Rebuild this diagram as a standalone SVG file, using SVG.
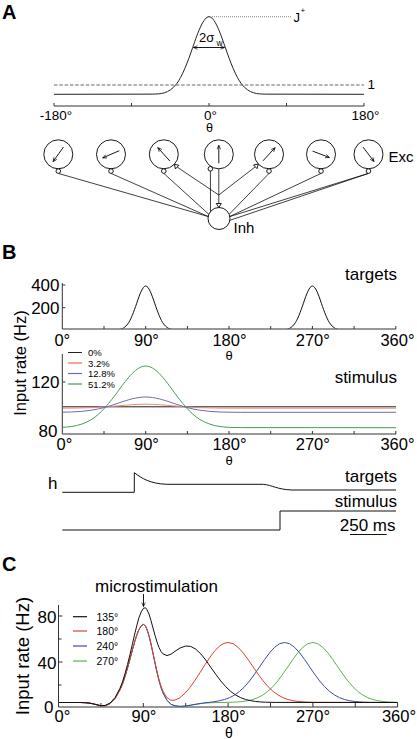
<svg xmlns="http://www.w3.org/2000/svg" width="417" height="739" viewBox="0 0 417 739">
<style>
text{font-family:"Liberation Sans",Arial,sans-serif;fill:#000}
.pl{font-size:20px;font-weight:bold}
.ax{stroke:#333;stroke-width:1;fill:none}
.cv{fill:none;stroke-width:1;stroke-linejoin:round}
.nd{fill:#fff;stroke:#000;stroke-width:0.9}
.cn{stroke:#000;stroke-width:0.75;fill:none}
.tl{font-size:17px}
.tk{font-size:16.5px}
.tA{font-size:13.5px}
.lg{font-size:9.5px}
.lgC{font-size:10.5px}
.th{font-size:13px}
.mid{text-anchor:middle}
.end{text-anchor:end}
.ar{stroke:#000;stroke-width:0.9;fill:none;marker-end:url(#ah)}
</style>
<defs>
<marker id="ah" viewBox="0 0 10 10" refX="9" refY="5" markerWidth="5" markerHeight="5" orient="auto-start-reverse" markerUnits="userSpaceOnUse"><path d="M1,1.5 L9,5 L1,8.5" fill="none" stroke="#000" stroke-width="1.4"/></marker>
<clipPath id="cT"><rect x="62.3" y="270" width="334" height="58.6"/></clipPath>
<clipPath id="cS"><rect x="62.8" y="340" width="333.5" height="93.5"/></clipPath>
</defs>

<!-- Panel A -->
<text class="pl" x="2" y="18.5">A</text>
<path class="cv" stroke="#222" d="M54,94.3 L152.3,94.14 C160.4,93.83 168.5,94.3 176.6,83.8 C182,76.8 187.4,62.9 192.8,47.2 C198.2,31.5 203.6,16.7 209,16.7 C214.4,16.7 219.8,31.5 225.2,47.2 C230.6,62.9 236,76.8 241.4,83.8 C249.5,94.3 257.6,93.83 265.7,94.14 L364,94.3"/>
<line x1="54" y1="85" x2="364" y2="85" stroke="#666" stroke-width="1" stroke-dasharray="3.5,1.8"/>
<line x1="212" y1="16.7" x2="292" y2="16.7" stroke="#888" stroke-width="1" stroke-dasharray="1,1"/>
<text x="293.5" y="21.5" font-size="13">J</text>
<text x="300.5" y="13" font-size="8">+</text>
<text x="199" y="41.5" font-size="13">2σ</text>
<text x="216.5" y="46" font-size="8.5">w</text>
<line x1="193.5" y1="47.5" x2="224.5" y2="47.5" stroke="#000" stroke-width="0.9" marker-start="url(#ah)" marker-end="url(#ah)"/>
<text class="tA" x="367.5" y="89">1</text>
<path class="ax" d="M54,103 V106 H364 V103 M131.5,106 V103 M209,106 V103 M286.5,106 V103"/>
<text class="tA mid" x="56" y="119.5">-180°</text>
<text class="tA mid" x="210.5" y="119.5">0°</text>
<text class="tA mid" x="365.5" y="119.5">180°</text>
<text class="mid" x="209.5" y="132" font-size="12.5">θ</text>

<!-- Network connectors -->
<g id="connectors">
<path class="cn" d="M58.3,173.4 L208.2,216.5 M111,173.4 L208.2,216.5 M163.8,173.4 L208.8,214.3 M210.4,171.1 L210.5,211.6 M269,173.4 L229.2,214.3 M321,173.4 L229.8,216.5 M368.5,173.4 L229.8,216.5 M368.5,173.4 L229.9,220.3"/>
<path class="cn" d="M218.8,168.8 L218.8,203.5 M218.8,195 L177.2,167.1 M218.8,195 L255.3,166.8"/>
</g>

<!-- Network nodes -->
<g id="exc1"><circle class="nd" cx="58.3" cy="154.3" r="14.5"/><line class="ar" x1="63.5" y1="147" x2="53.1" y2="161.6"/><circle class="nd" cx="58.3" cy="171.1" r="2.3"/></g>
<g id="exc2"><circle class="nd" cx="111" cy="154.3" r="14.5"/><line class="ar" x1="119.3" y1="150.7" x2="102.7" y2="157.9"/><circle class="nd" cx="111" cy="171.1" r="2.3"/></g>
<g id="exc3"><circle class="nd" cx="163.8" cy="154.3" r="14.5"/><line class="ar" x1="169.8" y1="161" x2="157.8" y2="147.6"/><circle class="nd" cx="163.8" cy="171.1" r="2.3"/><path class="nd" d="M174.3,164.3 L175.5,168.9 L178.9,165.3 Z"/></g>
<g id="exc4"><circle class="nd" cx="218.8" cy="154.3" r="14.5"/><line class="ar" x1="218.8" y1="163.3" x2="218.8" y2="145.3"/><circle class="nd" cx="210.35" cy="168.8" r="2.3"/></g>
<g id="exc5"><circle class="nd" cx="269" cy="154.3" r="14.5"/><line class="ar" x1="262.9" y1="160.9" x2="275.1" y2="147.7"/><circle class="nd" cx="269" cy="171.1" r="2.3"/><path class="nd" d="M258.3,164.1 L257,168.65 L253.6,164.95 Z"/></g>
<g id="exc6"><circle class="nd" cx="321" cy="154.3" r="14.5"/><line class="ar" x1="312.6" y1="151.1" x2="329.4" y2="157.5"/><circle class="nd" cx="321" cy="171.1" r="2.3"/></g>
<g id="exc7"><circle class="nd" cx="368.5" cy="154.3" r="14.5"/><line class="ar" x1="363" y1="147.1" x2="374" y2="161.5"/><circle class="nd" cx="368.5" cy="171.1" r="2.3"/></g>
<text x="388.5" y="161.5" font-size="15">Exc</text>
<g id="inh"><circle class="nd" cx="219" cy="218.5" r="11"/><path class="nd" d="M218.8,207.5 L216.3,203.5 L221.3,203.5 Z"/></g>
<text x="233.5" y="233" font-size="15">Inh</text>

<!-- Panel B -->
<text class="pl" x="2" y="258.5">B</text>
<text class="tl end" x="397" y="280">targets</text>
<path class="ax" d="M62.3,283 V329 H396 M62.3,285 H65.3 M62.3,307.7 H65.3 M104,329 V326 M145.7,329 V326 M187.4,329 V326 M229,329 V326 M270.7,329 V326 M312.4,329 V326 M354.1,329 V326 M395.8,329 V326"/>
<text class="tl end" x="59.5" y="290.5">400</text>
<text class="tl end" x="59.5" y="313.5">200</text>
<g clip-path="url(#cT)">
<path class="cv" stroke="#111" d="M62.3,330 L114.2,330 C118.7,329.7 123.2,330 127.7,324.06 C130.7,320.1 133.7,312.2 136.7,303.3 C139.7,294.4 142.7,286 145.7,286 C148.7,286 151.7,294.4 154.7,303.3 C157.7,312.2 160.7,320.1 163.7,324.06 C168.2,330 172.7,329.7 177.2,330 L280.9,330 C285.4,329.7 289.9,330 294.4,324.06 C297.4,320.1 300.4,312.2 303.4,303.3 C306.4,294.4 309.4,286 312.4,286 C315.4,286 318.4,294.4 321.4,303.3 C324.4,312.2 327.4,320.1 330.4,324.06 C334.9,330 339.4,329.7 343.9,330 L396,330"/>
</g>
<text class="tk mid" x="62.3" y="345.5">0°</text>
<text class="tk mid" x="146.5" y="345.5">90°</text>
<text class="tk mid" x="229.5" y="345.5">180°</text>
<text class="tk mid" x="312.8" y="345.5">270°</text>
<text class="tk mid" x="397.5" y="345.5">360°</text>
<text class="th mid" x="229" y="360">θ</text>

<text transform="translate(25.5,363) rotate(-90)" class="mid" font-size="16.5">Input rate (Hz)</text>

<text class="tl end" x="397" y="383">stimulus</text>
<path class="ax" d="M62.3,354 V434 H396 M62.3,382 H65.3 M104,434 V431 M145.7,434 V431 M187.4,434 V431 M229,434 V431 M270.7,434 V431 M312.4,434 V431 M354.1,434 V431 M395.8,434 V431"/>
<text class="tl end" x="59.5" y="388">120</text>
<text class="tl end" x="57.5" y="436.5">80</text>
<g clip-path="url(#cS)">
<path class="cv" stroke="#222" d="M62.3,406.8 L396,406.8"/>
<path class="cv" stroke="#ee8a75" stroke-width="1.3" d="M40,408.2 L51.2,408.2 C64.7,408.2 78.2,408.2 91.7,407.66 C100.7,407.3 109.7,406.6 118.7,405.8 C127.7,405 136.7,404.2 145.7,404.2 C154.7,404.2 163.7,405 172.7,405.8 C181.7,406.6 190.7,407.3 199.7,407.66 C213.2,408.2 226.7,408.2 240.2,408.2 L396,408.2"/>
<path class="cv" stroke="#6c6cb5" d="M40,412.3 L51.2,412.3 C64.7,412.2 78.2,412.3 91.7,410.2 C100.7,408.85 109.7,406.1 118.7,403 C127.7,399.9 136.7,397 145.7,397 C154.7,397 163.7,399.9 172.7,403 C181.7,406.1 190.7,408.85 199.7,410.2 C213.2,412.3 226.7,412.2 240.2,412.3 L396,412.3"/>
<path class="cv" stroke="#4b9a55" d="M40,427.7 L51.2,427.6 C64.7,427.3 78.2,427.7 91.7,419.4 C100.7,413.8 109.7,402.8 118.7,390.3 C127.7,377.8 136.7,366 145.7,366 C154.7,366 163.7,377.8 172.7,390.3 C181.7,402.8 190.7,413.8 199.7,419.4 C213.2,427.7 226.7,427.3 240.2,427.6 L396,427.7"/>
</g>
<g id="legendB">
<line x1="68" y1="352.5" x2="82" y2="352.5" stroke="#222" stroke-width="1"/>
<line x1="68" y1="363" x2="82" y2="363" stroke="#ee8a75" stroke-width="1.5"/>
<line x1="68" y1="373.5" x2="82" y2="373.5" stroke="#6c6cb5" stroke-width="1.2"/>
<line x1="68" y1="384" x2="82" y2="384" stroke="#4b9a55" stroke-width="1.2"/>
<text class="lg" x="88" y="356">0%</text>
<text class="lg" x="88" y="366.5">3.2%</text>
<text class="lg" x="88" y="377">12.8%</text>
<text class="lg" x="88" y="387.5">51.2%</text>
</g>
<text class="tk mid" x="64.5" y="450">0°</text>
<text class="tk mid" x="146.5" y="450">90°</text>
<text class="tk mid" x="229.5" y="450">180°</text>
<text class="tk mid" x="312.8" y="450">270°</text>
<text class="tk mid" x="397.5" y="450">360°</text>
<text class="th mid" x="229" y="464.5">θ</text>

<!-- time traces -->
<text x="48" y="488.5" font-size="17">h</text>
<path class="cv" stroke="#111" d="M62.3,492.3 L134.3,492.3 L134.3,472.7 C142,478.5 150,483.6 166.7,484.3 L263.3,484.3 C272,485 277,489.5 292,490 L396,490"/>
<text class="tl end" x="397" y="481.5">targets</text>
<text class="tl end" x="397" y="506.5">stimulus</text>
<path class="cv" stroke="#111" d="M62.3,530 L280,530 L280,511 L396,511"/>
<text class="tl end" x="395.5" y="531">250 ms</text>
<line x1="350" y1="534.5" x2="386.7" y2="534.5" stroke="#111" stroke-width="1.2"/>

<!-- Panel C -->
<text class="pl" x="2" y="570.5">C</text>
<text class="tl mid" x="156.5" y="591.5">microstimulation</text>
<line class="ar" x1="143.5" y1="594" x2="143.5" y2="606.5"/>
<text transform="translate(29,656) rotate(-90)" class="mid" font-size="18.5">Input rate (Hz)</text>
<path class="ax" d="M58.5,605 V707 H397.6 M58.5,616 H62.5 M58.5,639 H61.5 M58.5,662 H62.5 M58.5,685 H61.5 M100.9,707 V703 M143.3,707 V703 M185.7,707 V703 M228.1,707 V703 M270.5,707 V703 M312.9,707 V703 M355.3,707 V703 M397.6,707 V703"/>
<text class="tl end" x="56.5" y="622.5">80</text>
<text class="tl end" x="56.5" y="668.5">40</text>
<text class="tl end" x="53.5" y="712.5">0</text>
<text class="tk mid" x="62.5" y="722">0°</text>
<text class="tk mid" x="144" y="722">90°</text>
<text class="tk mid" x="228.5" y="722">180°</text>
<text class="tk mid" x="313" y="722">270°</text>
<text class="tk mid" x="399" y="722">360°</text>
<text class="mid" x="229" y="737.5" font-size="14">θ</text>

<path class="cv" stroke="#5cb34a" d="M58.5,702.5 L80,702.5 85,702.7 90,703.2 95,704.3 100,705.6 105,705.8 110,703.6 115,698.6 120,689.8 122.5,683.9 125,676.5 127.5,668.1 130,659 132.5,649.5 135,640.6 137,634.4 139,629.4 141.5,625.5 143.5,624.5 145.5,626.2 147,629.6 149,635.8 151,644.2 153,653.6 155,663.2 157,672.4 159,680.6 161,687.5 163,693 167,700.4 171,704.3 175,705.8 180,706.4 185,706 190,705.3 195,704.4 200,703.7 205,703.1 210,702.8 215,702.6 220,702.5 227.8,702.35 232.8,702.2 237.8,701.9 242.8,701.5 247.8,700.7 252.8,699.5 257.8,697.7 262.8,695 267.8,691.4 272.8,686.7 277.8,680.9 282.8,674.1 287.8,666.9 292.8,659.5 297.8,652.8 302.8,647.3 307.8,643.7 312.8,642.5 317.8,643.7 322.8,647.3 327.8,652.8 332.8,659.5 337.8,666.9 342.8,674.1 347.8,680.9 352.8,686.7 357.8,691.4 362.8,695 367.8,697.7 372.8,699.5 377.8,700.7 382.8,701.5 387.8,701.9 392.8,702.2 397.5,702.35"/>
<path class="cv" stroke="#3b4aa8" d="M58.5,702.5 L80,702.5 85,702.7 90,703.2 95,704.3 100,705.6 105,705.8 110,703.6 115,698.6 120,689.8 122.5,683.9 125,676.5 127.5,668.1 130,659 132.5,649.5 135,640.6 137,634.4 139,629.4 141.5,625.5 143.5,624.5 145.5,626.2 147,629.6 149,635.8 151,644.2 153,653.6 155,663.2 157,672.4 159,680.6 161,687.5 163,693 167,700.4 171,704.3 175,705.8 180,706.4 185,706 190,705.3 195,704.4 200,703.55 205,702.8 210,702.24 215,701.6 219.6,700.7 224.6,699.5 229.6,697.7 234.6,695 239.6,691.4 244.6,686.7 249.6,680.9 254.6,674.1 259.6,666.9 264.6,659.5 269.6,652.8 274.6,647.3 279.6,643.7 284.6,642.5 289.6,643.7 294.6,647.3 299.6,652.8 304.6,659.5 309.6,666.9 314.6,674.1 319.6,680.9 324.6,686.7 329.6,691.4 334.6,695 339.6,697.7 344.6,699.5 349.6,700.7 354.6,701.5 359.6,701.9 364.6,702.2 369.6,702.35 397.5,702.5"/>
<path class="cv" stroke="#e0412d" d="M58.5,702.5 L80,702.5 85,702.7 90,703.2 95,704.3 100,705.6 105,705.8 110,703.6 115,698.6 120,689.8 122.5,683.9 125,676.5 127.5,668.1 130,659 132.5,649.5 135,640.6 137,634.4 139,629.4 141.5,625.5 143.5,624.35 145.5,626 147,629.35 149,635.5 151,643.8 153,653 155,662.5 157,671.5 159,679.5 161,686.1 163,691.2 167,697.7 171,700.3 175,700.1 180,697.7 185,693.2 190,687.4 195,680.3 200,672.6 205,664.6 210,657.1 215,650.6 220,645.7 224,643.3 228.1,642.5 233.1,643.7 238.1,647.3 243.1,652.8 248.1,659.5 253.1,666.9 258.1,674.1 263.1,680.9 268.1,686.7 273.1,691.4 278.1,695 283.1,697.7 288.1,699.5 293.1,700.7 298.1,701.5 303.1,701.9 308.1,702.2 313.1,702.35 397.5,702.5"/>
<path class="cv" stroke="#111" d="M58.5,702.5 L80,702.5 85,702.7 90,703.2 95,704.25 100,705.5 105,705.5 110,703.1 115,697.7 120,688.2 122.5,681.75 125,673.7 127.5,664.5 130,654.5 132.5,643.5 135,632.8 137,624.8 139,617.5 141.5,611.2 143.5,608.2 145.5,607.8 147,609.8 149,614 151,620.6 153,628 155,635.3 157,642 159,647.5 161,651.4 163,653.9 167,655.6 171,654.2 175,651.3 180,648 185.7,646 190.7,646.4 195.7,649.1 200.7,653.8 205.7,660 210.7,667.2 215.7,674.2 220.7,680.9 225.7,686.7 230.7,691.4 235.7,695 240.7,697.7 245.7,699.5 250.7,700.7 255.7,701.5 260.7,701.95 265.7,702.2 275,702.4 397.5,702.5"/>
<g id="legendC">
<line x1="73" y1="616.7" x2="87" y2="616.7" stroke="#111" stroke-width="1.2"/>
<line x1="73" y1="631" x2="87" y2="631" stroke="#e0412d" stroke-width="1.2"/>
<line x1="73" y1="646" x2="87" y2="646" stroke="#3b4aa8" stroke-width="1.2"/>
<line x1="73" y1="661" x2="87" y2="661" stroke="#5cb34a" stroke-width="1.2"/>
<text class="lgC" x="96.5" y="620.5">135°</text>
<text class="lgC" x="96.5" y="634.8">180°</text>
<text class="lgC" x="96.5" y="649.8">240°</text>
<text class="lgC" x="96.5" y="664.8">270°</text>
</g>
</svg>
